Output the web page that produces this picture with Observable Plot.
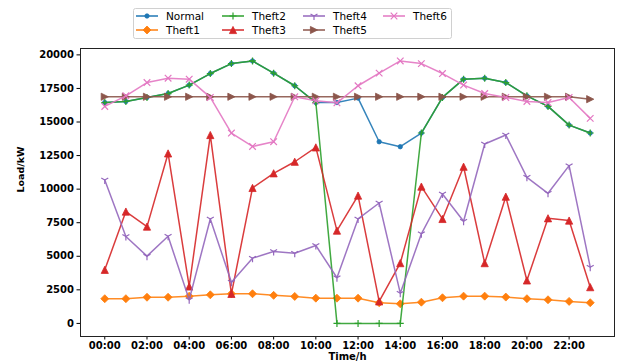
<!DOCTYPE html>
<html><head><meta charset="utf-8">
<script src="https://cdn.jsdelivr.net/npm/d3@7"></script>
<script src="https://cdn.jsdelivr.net/npm/@observablehq/plot@0.6"></script>
<style>body{margin:0;background:#fff}#chart{width:621px;height:364px}</style>
</head><body><div id="chart"></div>
<script>
const hours = [0,1,2,3,4,5,6,7,8,9,10,11,12,13,14,15,16,17,18,19,20,21,22,23];
const xTicks = [0,2,4,6,8,10,12,14,16,18,20,22];
const xTickLabels = ["00:00","02:00","04:00","06:00","08:00","10:00","12:00","14:00","16:00","18:00","20:00","22:00"];
const yTicks = [0,2500,5000,7500,10000,12500,15000,17500,20000];

const seriesNames = ["Normal","Theft1","Theft2","Theft3","Theft4","Theft5","Theft6"];
const normal = [16450,16530,16830,17120,17750,18610,19350,19550,18640,17700,16450,16450,16780,13530,13160,14180,16830,18190,18260,17940,16950,16160,14770,14180];
const theft1 = [1840,1840,1950,1950,2030,2130,2210,2210,2090,2010,1880,1880,1880,1540,1460,1580,1910,2030,2030,1960,1840,1760,1640,1540];
const theft2 = [16450,16530,16830,17120,17750,18610,19350,19550,18640,17700,16450,0,0,0,0,14180,16830,18190,18260,17940,16950,16160,14770,14180];
const theft3 = [3990,8330,7210,12660,2750,14030,2200,10090,11180,12040,13110,6910,9520,1640,4490,10190,7780,11670,4490,9440,3200,7830,7660,2700];
const theft4 = [10680,6470,5010,6490,1760,7780,3070,4860,5350,5230,5800,3400,7780,8970,2250,6670,9640,7610,13360,14030,10880,9690,11750,4190];
const theft5 = [16880,16880,16880,16880,16880,16880,16880,16880,16880,16880,16880,16880,16880,16880,16880,16880,16880,16880,16880,16880,16880,16880,16880,16700];
const theft6 = [16160,16950,17940,18260,18190,16830,14180,13180,13530,16880,16580,16430,17700,18640,19550,19350,18610,17750,17120,16830,16530,16450,16830,15270];
const seriesValues = [normal,theft1,theft2,theft3,theft4,theft5,theft6];
const colors = ["#1f77b4","#ff7f0e","#2ca02c","#d62728","#9467bd","#8c564b","#e377c2"];

// custom matplotlib-like marker symbols (size = pi r^2)
const R = s => Math.sqrt(s/Math.PI);
const sym = {
  point:{draw(c,s){const r=R(s);c.moveTo(r,0);c.arc(0,0,r,0,2*Math.PI);}},
  diamond:{draw(c,s){const r=R(s);c.moveTo(0,-r);c.lineTo(r,0);c.lineTo(0,r);c.lineTo(-r,0);c.closePath();}},
  plus:{draw(c,s){const r=R(s);c.moveTo(-r,0);c.lineTo(r,0);c.moveTo(0,-r);c.lineTo(0,r);}},
  triUp:{draw(c,s){const r=R(s);c.moveTo(0,-r);c.lineTo(r,r);c.lineTo(-r,r);c.closePath();}},
  triDown1:{draw(c,s){const r=R(s);c.moveTo(0,0);c.lineTo(0,r);c.moveTo(0,0);c.lineTo(-0.87*r,-0.5*r);c.moveTo(0,0);c.lineTo(0.87*r,-0.5*r);}},
  triRight:{draw(c,s){const r=R(s);c.moveTo(r,0);c.lineTo(-r,r);c.lineTo(-r,-r);c.closePath();}},
  times:{draw(c,s){const r=R(s);c.moveTo(-r,-r);c.lineTo(r,r);c.moveTo(-r,r);c.lineTo(r,-r);}}
};
const markers = [
  {symbol:sym.point, r:2.2, filled:true},
  {symbol:sym.diamond, r:4, filled:true},
  {symbol:sym.plus, r:3.5, filled:false},
  {symbol:sym.triUp, r:3.6, filled:true},
  {symbol:sym.triDown1, r:4, filled:false},
  {symbol:sym.triRight, r:3.6, filled:true},
  {symbol:sym.times, r:3.3, filled:false}
];

const rows = [];
seriesNames.forEach((name,si)=>hours.forEach((h,i)=>rows.push({series:name, si, hour:h, value:seriesValues[si][i]})));

const marks = [];
seriesNames.forEach((name,si)=>{
  const data = rows.filter(d=>d.si===si);
  const m = markers[si];
  marks.push(Plot.line(data,{x:"hour",y:"value",stroke:colors[si],strokeWidth:1.5,strokeOpacity:0.9}));
  marks.push(Plot.dot(data,{x:"hour",y:"value",symbol:()=>m.symbol,r:m.r,
    fill:m.filled?colors[si]:"none",stroke:colors[si],strokeWidth:m.filled?0.8:1.2}));
});

const fmtX = d => xTickLabels[xTicks.indexOf(d)];
const plot = Plot.plot({
  width:621,height:364,
  marginLeft:80,marginRight:7,marginTop:48,marginBottom:28,
  style:{fontFamily:"DejaVu Sans",fontSize:"10px",fontWeight:"bold",background:"#fff",color:"#000"},
  x:{domain:[-1.15,24.15]},
  y:{domain:[-975,20475]},
  marks:[
    Plot.axisX({ticks:xTicks,tickFormat:fmtX,tickSize:3.5,tickPadding:2,label:null}),
    Plot.axisY({ticks:yTicks,tickFormat:d3.format("d"),tickSize:3.5,tickPadding:3,label:null}),
    ...marks,
    Plot.frame({stroke:"#222",strokeWidth:1}),
    Plot.text(["Time/h"],{frameAnchor:"bottom",dy:23,fontSize:10,fontWeight:"bold"}),
    Plot.text(["Load/kW"],{frameAnchor:"left",dx:-60,rotate:-90,fontSize:9.5,fontWeight:"bold"})
  ]
});
document.getElementById("chart").appendChild(plot);

// legend
const svg = d3.select(plot);
const lg = svg.append("g").attr("font-family","DejaVu Sans").attr("font-size","10.5px").attr("font-weight","normal").attr("text-anchor","start");
lg.append("rect").attr("x",133.5).attr("y",8.5).attr("width",318).attr("height",30).attr("rx",2)
  .attr("fill","#fff").attr("fill-opacity",0.8).attr("stroke","#d0d0d0");
const cols = [{lx:136,tx:166},{lx:222,tx:252},{lx:303,tx:333},{lx:383,tx:413}];
const rowsY = [16,30];
seriesNames.forEach((name,si)=>{
  const col = cols[Math.floor(si/2)], y = rowsY[si%2], m = markers[si];
  const g = lg.append("g");
  g.append("line").attr("x1",col.lx).attr("x2",col.lx+22).attr("y1",y).attr("y2",y).attr("stroke",colors[si]).attr("stroke-width",1.5);
  g.append("path").attr("d",d3.symbol(m.symbol, m.r*m.r*Math.PI)()).attr("transform",`translate(${col.lx+11},${y})`)
    .attr("fill",m.filled?colors[si]:"none").attr("stroke",colors[si]).attr("stroke-width",m.filled?0.8:1.2);
  g.append("text").attr("x",col.tx).attr("y",y).attr("dy","0.35em").attr("text-anchor","start").attr("fill","#000").text(name);
});
</script></body></html>
